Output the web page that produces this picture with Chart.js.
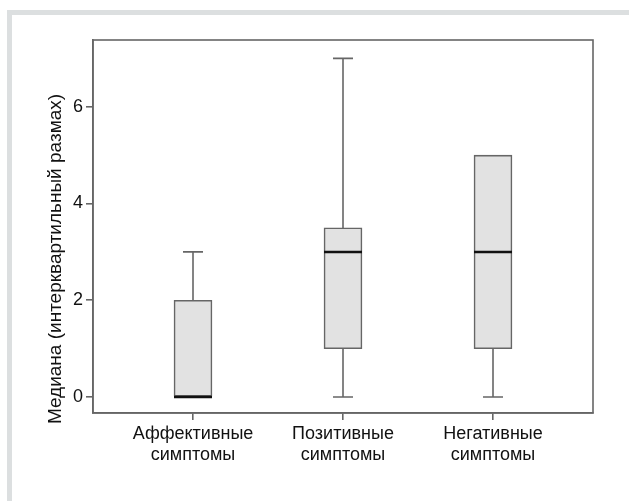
<!DOCTYPE html>
<html>
<head>
<meta charset="utf-8">
<script src="https://cdn.jsdelivr.net/npm/chart.js@4"></script>
<style>
  body { margin: 0; background: #fff; }
  #frame { position: absolute; left: 7px; top: 10px; right: 0; bottom: 0;
           border-top: 5px solid #dcdfe0; border-left: 5px solid #dcdfe0; }
  #wrap { position: absolute; left: 0; top: 0; width: 629px; height: 501px; }
</style>
</head>
<body>
<div id="frame"></div>
<div id="wrap"><canvas id="chart" width="629" height="501"></canvas></div>
<script>
const categories = [['Аффективные', 'симптомы'], ['Позитивные', 'симптомы'], ['Негативные', 'симптомы']];
const whiskerLow = [0, 0, 0];
const q1 = [0, 1, 1];
const median = [0, 3, 3];
const q3 = [2, 3.5, 5];
const whiskerHigh = [3, 7, 5];
const yTicks = [0, 2, 4, 6];
const yTitle = 'Медиана (интерквартильный размах)';

const FONT = "'Liberation Sans', Arial, sans-serif";
const LINE = '#666';
const TEXT = '#111';

// whiskers behind the boxes, medians on top, frame round the plot area
const boxPlot = {
    id: 'boxPlot',
    beforeDatasetsDraw(chart) {
        const { ctx, scales: { x, y } } = chart;
        ctx.save();
        ctx.strokeStyle = LINE;
        ctx.lineWidth = 1.6;
        categories.forEach((c, i) => {
            const px = x.getPixelForValue(i + 1);
            ctx.beginPath();
            ctx.moveTo(px, y.getPixelForValue(whiskerLow[i]));
            ctx.lineTo(px, y.getPixelForValue(whiskerHigh[i]));
            if (whiskerLow[i] < q1[i]) {
                const py = y.getPixelForValue(whiskerLow[i]);
                ctx.moveTo(px - 10, py);
                ctx.lineTo(px + 10, py);
            }
            if (whiskerHigh[i] > q3[i]) {
                const py = y.getPixelForValue(whiskerHigh[i]);
                ctx.moveTo(px - 10, py);
                ctx.lineTo(px + 10, py);
            }
            ctx.stroke();
        });
        ctx.restore();
    },
    afterDatasetsDraw(chart) {
        const { ctx, chartArea: a, scales: { x, y } } = chart;
        ctx.save();
        ctx.strokeStyle = '#111';
        ctx.lineWidth = 2.5;
        categories.forEach((c, i) => {
            const px = x.getPixelForValue(i + 1);
            const py = y.getPixelForValue(median[i]);
            ctx.beginPath();
            ctx.moveTo(px - 19, py);
            ctx.lineTo(px + 19, py);
            ctx.stroke();
        });
        ctx.strokeStyle = LINE;
        ctx.lineWidth = 1.6;
        ctx.strokeRect(a.left, a.top, a.right - a.left, a.bottom - a.top);

        ctx.fillStyle = TEXT;
        ctx.font = '19px ' + FONT;
        ctx.textAlign = 'center';
        ctx.textBaseline = 'middle';
        ctx.translate(56, 259);
        ctx.rotate(-Math.PI / 2);
        ctx.fillText(yTitle, 0, 0);
        ctx.restore();
    }
};

new Chart(document.getElementById('chart'), {
    type: 'bar',
    data: {
        datasets: [{
            data: categories.map((c, i) => ({ x: i + 1, y: [q1[i], q3[i]] })),
            backgroundColor: '#e2e2e2',
            borderColor: LINE,
            borderWidth: 1.6,
            borderSkipped: false,
            barThickness: 38
        }]
    },
    options: {
        responsive: false,
        animation: false,
        layout: { padding: { top: 40, right: 36, left: 0, bottom: 0 } },
        plugins: { legend: { display: false }, tooltip: { enabled: false } },
        scales: {
            x: {
                type: 'linear',
                offset: false,
                min: 1 / 3,
                max: 11 / 3,
                afterBuildTicks: s => { s.ticks = [1, 2, 3].map(v => ({ value: v })); },
                afterFit: s => { s.height = 88; },
                grid: { offset: false, drawOnChartArea: false, tickLength: 7, color: LINE, lineWidth: 1.6 },
                border: { color: LINE, width: 1.6 },
                ticks: {
                    callback: v => categories[v - 1],
                    color: TEXT,
                    font: { family: FONT, size: 18, lineHeight: 1.2 },
                    padding: 3,
                    maxRotation: 0,
                    autoSkip: false
                }
            },
            y: {
                min: -0.33,
                max: 7.38,
                afterBuildTicks: s => { s.ticks = yTicks.map(v => ({ value: v })); },
                afterFit: s => { s.width = 93; },
                grid: { drawOnChartArea: false, tickLength: 7, color: LINE, lineWidth: 1.6 },
                border: { color: LINE, width: 1.6 },
                ticks: {
                    color: TEXT,
                    font: { family: FONT, size: 18 },
                    padding: 3
                }
            }
        }
    },
    plugins: [boxPlot]
});
</script>
</body>
</html>
